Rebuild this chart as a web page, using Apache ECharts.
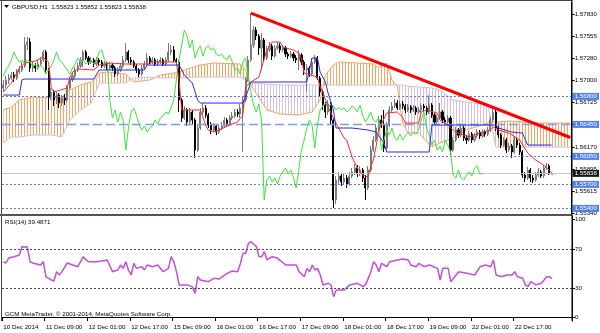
<!DOCTYPE html>
<html><head><meta charset="utf-8">
<script src="https://cdn.jsdelivr.net/npm/echarts@6/dist/echarts.min.js"></script>
<style>html,body{margin:0;padding:0;background:#fff}#c{width:600px;height:333px}</style>
</head><body><div id="c"></div>
<script>
// ---------- DATA ----------
const slotCount = 214; // bar slots on the time axis (H1 bars, incl. cloud projection)
const categories = Array.from({length: slotCount}, (_, i) => i);
const tickLabels = ['10 Dec 2014','11 Dec 09:00','12 Dec 01:00','12 Dec 17:00','15 Dec 09:00','16 Dec 01:00','16 Dec 17:00','17 Dec 09:00','18 Dec 01:00','18 Dec 17:00','19 Dec 09:00','22 Dec 01:00','22 Dec 17:00'];
const priceTicks = [1.57830,1.57555,1.57280,1.57000,1.56725,1.56450,1.56170,1.55895,1.55615,1.55340];
const rsiTicks = [0,30,70,100];
const rsiLevels = [30,70];
const levelLines = [1.56800,1.56450,1.56050,1.55700,1.55400];
const dashedLevel = 1.56450;
const lastPrice = 1.55838;
const titleText = 'GBPUSD,H1  1.55823 1.55852 1.55823 1.55838';
const rsiTitle = 'RSI(14) 39.4871';
const footer = 'GCM MetaTrader, \u00a9 2001-2014, MetaQuotes Software Corp.';

// candles: [open, close, low, high]
const candles = [
[1.56905,1.56942,1.56855,1.57005],[1.56942,1.57005,1.56905,1.57055],[1.57005,1.57030,1.56955,1.57080],[1.57030,1.57067,1.57005,1.57105],[1.57067,1.57030,1.56980,1.57105],
[1.57030,1.57105,1.57005,1.57142],[1.57105,1.57130,1.57080,1.57180],[1.57130,1.57180,1.57105,1.57230],[1.57180,1.57442,1.57155,1.57542],[1.57442,1.57480,1.57380,1.57542],
[1.57480,1.57155,1.57105,1.57530],[1.57155,1.57180,1.57105,1.57230],[1.57180,1.57155,1.57105,1.57217],[1.57155,1.57205,1.57130,1.57255],[1.57205,1.57255,1.57180,1.57292],
[1.57255,1.57355,1.57230,1.57380],[1.57355,1.57130,1.57080,1.57380],[1.57130,1.56792,1.56630,1.57155],[1.56792,1.56855,1.56755,1.56905],[1.56855,1.56755,1.56680,1.56880],
[1.56755,1.56817,1.56705,1.56855],[1.56817,1.56717,1.56655,1.56842],[1.56717,1.56780,1.56680,1.56817],[1.56780,1.56755,1.56692,1.56830],[1.56755,1.56905,1.56730,1.56942],
[1.56905,1.57005,1.56880,1.57042],[1.57005,1.57055,1.56980,1.57105],[1.57055,1.57130,1.57030,1.57167],[1.57130,1.57180,1.57105,1.57217],[1.57180,1.57255,1.57155,1.57292],
[1.57255,1.57355,1.57167,1.57380],[1.57355,1.57280,1.57255,1.57380],[1.57280,1.57230,1.57192,1.57305],[1.57230,1.57255,1.57205,1.57292],[1.57255,1.57205,1.57167,1.57280],
[1.57205,1.57255,1.57180,1.57292],[1.57255,1.57230,1.57192,1.57280],[1.57230,1.57180,1.57155,1.57255],[1.57180,1.57205,1.57155,1.57242],[1.57205,1.57155,1.57130,1.57230],
[1.57155,1.57192,1.57130,1.57230],[1.57192,1.57155,1.57117,1.57217],[1.57155,1.57080,1.57042,1.57180],[1.57080,1.57130,1.57055,1.57167],[1.57130,1.57180,1.57105,1.57217],
[1.57180,1.57255,1.57155,1.57305],[1.57255,1.57355,1.57230,1.57467],[1.57355,1.57255,1.57217,1.57380],[1.57255,1.57230,1.57192,1.57292],[1.57230,1.57180,1.57155,1.57255],
[1.57180,1.57130,1.57092,1.57205],[1.57130,1.57080,1.57042,1.57155],[1.57080,1.57155,1.57055,1.57192],[1.57155,1.57205,1.57130,1.57242],[1.57205,1.57280,1.57180,1.57342],
[1.57280,1.57230,1.57205,1.57305],[1.57230,1.57255,1.57205,1.57292],[1.57255,1.57205,1.57180,1.57280],[1.57205,1.57230,1.57180,1.57267],[1.57230,1.57255,1.57205,1.57292],
[1.57255,1.57205,1.57180,1.57280],[1.57205,1.57255,1.57180,1.57292],[1.57255,1.57355,1.57230,1.57467],[1.57355,1.57380,1.57317,1.57442],[1.57380,1.57255,1.57230,1.57430],
[1.57255,1.57230,1.57192,1.57280],[1.57230,1.56755,1.56605,1.57255],[1.56755,1.56530,1.56480,1.56780],[1.56530,1.56630,1.56505,1.56680],[1.56630,1.56480,1.56430,1.56655],
[1.56480,1.56605,1.56455,1.56655],[1.56605,1.56505,1.56455,1.56630],[1.56505,1.56130,1.56030,1.56530],[1.56130,1.56405,1.56105,1.56442],[1.56405,1.56605,1.56380,1.56655],
[1.56605,1.56655,1.56567,1.56717],[1.56655,1.56567,1.56530,1.56692],[1.56567,1.56442,1.56405,1.56592],[1.56442,1.56380,1.56330,1.56480],[1.56380,1.56430,1.56355,1.56467],
[1.56430,1.56355,1.56317,1.56455],[1.56355,1.56405,1.56330,1.56442],[1.56405,1.56430,1.56380,1.56480],[1.56430,1.56505,1.56405,1.56542],[1.56505,1.56455,1.56417,1.56530],
[1.56455,1.56530,1.56430,1.56567],[1.56530,1.56555,1.56505,1.56605],[1.56555,1.56605,1.56530,1.56642],[1.56605,1.56580,1.56542,1.56642],[1.56580,1.56655,1.56530,1.56705],
[1.56655,1.56755,1.56105,1.56805],[1.56755,1.57005,1.56730,1.57042],[1.57005,1.57255,1.56980,1.57305],[1.57255,1.57442,1.57230,1.57842],[1.57442,1.57630,1.57405,1.57680],
[1.57630,1.57555,1.57505,1.57667],[1.57555,1.57405,1.57317,1.57580],[1.57405,1.57505,1.57130,1.57592],[1.57505,1.57280,1.57230,1.57530],[1.57280,1.57380,1.57255,1.57430],
[1.57380,1.57430,1.57355,1.57480],[1.57430,1.57305,1.57255,1.57455],[1.57305,1.57405,1.57280,1.57442],[1.57405,1.57430,1.57380,1.57480],[1.57430,1.57380,1.57342,1.57467],
[1.57380,1.57405,1.57355,1.57442],[1.57405,1.57330,1.57292,1.57430],[1.57330,1.57305,1.57267,1.57355],[1.57305,1.57330,1.57280,1.57367],[1.57330,1.57280,1.57242,1.57355],
[1.57280,1.57255,1.57217,1.57317],[1.57255,1.57317,1.57130,1.57380],[1.57317,1.57230,1.57192,1.57342],[1.57230,1.57130,1.57067,1.57255],[1.57130,1.57155,1.56855,1.57205],
[1.57155,1.57080,1.57042,1.57180],[1.57080,1.57230,1.57055,1.57280],[1.57230,1.57280,1.57205,1.57317],[1.57280,1.57030,1.57005,1.57305],[1.57030,1.56855,1.56805,1.57055],
[1.56855,1.56692,1.56630,1.56880],[1.56692,1.56605,1.56530,1.56730],[1.56605,1.56705,1.56567,1.56755],[1.56705,1.56505,1.56442,1.56730],[1.56505,1.55505,1.55405,1.56530],
[1.55505,1.55755,1.55455,1.55805],[1.55755,1.55805,1.55705,1.55855],[1.55805,1.55730,1.55680,1.55842],[1.55730,1.55780,1.55692,1.55830],[1.55780,1.55705,1.55655,1.55817],
[1.55705,1.55805,1.55680,1.55855],[1.55805,1.55855,1.55780,1.55905],[1.55855,1.55905,1.55817,1.55955],[1.55905,1.55830,1.55792,1.55942],[1.55830,1.55880,1.55805,1.55930],
[1.55880,1.55780,1.55730,1.55905],[1.55780,1.55655,1.55505,1.55817],[1.55655,1.55880,1.55630,1.55930],[1.55880,1.56130,1.55855,1.56180],[1.56130,1.56255,1.56105,1.56305],
[1.56255,1.56405,1.56230,1.56455],[1.56405,1.56505,1.56380,1.56555],[1.56505,1.56442,1.56405,1.56567],[1.56442,1.56155,1.56105,1.56630],[1.56155,1.56442,1.56130,1.56480],
[1.56442,1.56630,1.56417,1.56680],[1.56630,1.56680,1.56605,1.56730],[1.56680,1.56717,1.56655,1.56767],[1.56717,1.56655,1.56630,1.56755],[1.56655,1.56705,1.56630,1.56742],
[1.56705,1.56680,1.56642,1.56742],[1.56680,1.56630,1.56592,1.56705],[1.56630,1.56667,1.56605,1.56705],[1.56667,1.56630,1.56592,1.56692],[1.56630,1.56655,1.56605,1.56692],
[1.56655,1.56605,1.56567,1.56680],[1.56605,1.56630,1.56580,1.56667],[1.56630,1.56680,1.56605,1.56717],[1.56680,1.56655,1.56617,1.56705],[1.56655,1.56605,1.56567,1.56680],
[1.56605,1.56692,1.56580,1.56817],[1.56692,1.56567,1.56530,1.56717],[1.56567,1.56480,1.56442,1.56592],[1.56480,1.56530,1.56455,1.56567],[1.56530,1.56605,1.56505,1.56717],
[1.56605,1.56505,1.56467,1.56630],[1.56505,1.56480,1.56442,1.56542],[1.56480,1.56530,1.56455,1.56567],[1.56530,1.56130,1.56067,1.56555],[1.56130,1.56255,1.56105,1.56292],
[1.56255,1.56380,1.56230,1.56417],[1.56380,1.56317,1.56280,1.56405],[1.56317,1.56405,1.56292,1.56442],[1.56405,1.56280,1.56242,1.56430],[1.56280,1.56255,1.56205,1.56317],
[1.56255,1.56330,1.56230,1.56367],[1.56330,1.56255,1.56217,1.56355],[1.56255,1.56305,1.56230,1.56342],[1.56305,1.56355,1.56280,1.56392],[1.56355,1.56305,1.56267,1.56380],
[1.56305,1.56355,1.56280,1.56392],[1.56355,1.56330,1.56292,1.56380],[1.56330,1.56380,1.56305,1.56417],[1.56380,1.56505,1.56355,1.56542],[1.56505,1.56605,1.56480,1.56655],
[1.56605,1.56405,1.56367,1.56630],[1.56405,1.56317,1.56280,1.56430],[1.56317,1.56192,1.56155,1.56342],[1.56192,1.56255,1.56167,1.56292],[1.56255,1.56130,1.56092,1.56280],
[1.56130,1.56180,1.56105,1.56217],[1.56180,1.56105,1.56030,1.56205],[1.56105,1.56255,1.56080,1.56305],[1.56255,1.56192,1.56155,1.56280],[1.56192,1.56105,1.56067,1.56217],
[1.56105,1.55817,1.55780,1.56130],[1.55817,1.55780,1.55730,1.55855],[1.55780,1.55880,1.55755,1.55917],[1.55880,1.55780,1.55730,1.55905],[1.55780,1.55755,1.55717,1.55817],
[1.55755,1.55817,1.55730,1.55855],[1.55817,1.55855,1.55792,1.55905],[1.55855,1.55805,1.55780,1.55880],[1.55805,1.55905,1.55780,1.55942],[1.55905,1.55930,1.55880,1.55967],
[1.55930,1.55830,1.55817,1.55955],[1.55823,1.55838,1.55823,1.55852]
];

// Ichimoku lines: [bar index, price]
const tenkan = [[0,1.56855],[3,1.56967],[6,1.57155],[8,1.57217],[12,1.57242],[15,1.57292],[16,1.57255],[17,1.57230],[18,1.56905],[19,1.56855],[24,1.56905],[25,1.57042],[26,1.57105],[28,1.57142],[34,1.57130],[36,1.57192],[40,1.57217],[46,1.57205],[55,1.57205],[56,1.57230],[65,1.57230],[66,1.57005],[67,1.56630],[74,1.56630],[76,1.56442],[77,1.56380],[79,1.56355],[81,1.56380],[85,1.56442],[88,1.56480],[90,1.56567],[91,1.56917],[93,1.56980],[96,1.57042],[99,1.57380],[101,1.57480],[104,1.57480],[105,1.57417],[109,1.57380],[111,1.57342],[112,1.57280],[113,1.57092],[118,1.57042],[119,1.56917],[120,1.56855],[122,1.56667],[124,1.56530],[128,1.56280],[129,1.56255],[131,1.56042],[133,1.55905],[135,1.55817],[137,1.55792],[138,1.55917],[139,1.56005],[140,1.56167],[141,1.56380],[144,1.56592],[148,1.56605],[150,1.56542],[151,1.56467],[156,1.56467],[157,1.56605],[159,1.56630],[163,1.56592],[164,1.56505],[166,1.56467],[170,1.56355],[175,1.56292],[179,1.56342],[183,1.56380],[184,1.56417],[186,1.56380],[190,1.56342],[194,1.56255],[197,1.56092],[200,1.56005],[203,1.55942],[206,1.55842]];
const kijun = [[0,1.56817],[6,1.56817],[7,1.57005],[8,1.57017],[34,1.57017],[36,1.57130],[53,1.57130],[54,1.57192],[66,1.57192],[68,1.57067],[71,1.56967],[73,1.56755],[74,1.56717],[90,1.56717],[92,1.56880],[93,1.56980],[114,1.56980],[116,1.57280],[118,1.57280],[119,1.57105],[121,1.56980],[122,1.56842],[124,1.56630],[125,1.56405],[131,1.56405],[137,1.56380],[140,1.56355],[143,1.56217],[144,1.56105],[160,1.56105],[161,1.56442],[185,1.56442],[186,1.56405],[191,1.56355],[195,1.56342],[197,1.56192],[206,1.56192]];
// Cloud (Senkou span A / B) read at shared bar indices
const cloudIdx = [0,3,6,11,18,22,25,29,33,35,36,39,46,49,55,59,64,74,79,89,91,93,99,104,111,116,119,121,124,126,139,141,143,144,146,148,150,152,156,161,164,169,174,182,183,185,190,201,213];
const spanA = [1.56630,1.56667,1.56755,1.56792,1.56780,1.56792,1.56880,1.56942,1.56980,1.57030,1.57092,1.57105,1.57080,1.56980,1.57005,1.57067,1.57092,1.57192,1.57217,1.57205,1.57130,1.56942,1.56630,1.56580,1.56567,1.56605,1.56755,1.57067,1.57192,1.57230,1.57205,1.57155,1.57205,1.57217,1.57005,1.56930,1.56467,1.56342,1.56342,1.56167,1.56217,1.56280,1.56380,1.56467,1.56480,1.56480,1.56492,1.56467,1.56467];
const spanB = [1.56217,1.56292,1.56292,1.56317,1.56317,1.56292,1.56505,1.56630,1.56717,1.56880,1.56967,1.56967,1.56967,1.57030,1.57042,1.57030,1.57030,1.57042,1.57042,1.57042,1.57005,1.56967,1.56955,1.56942,1.56942,1.56942,1.56942,1.56942,1.56942,1.56942,1.56942,1.56942,1.56942,1.56942,1.56942,1.56942,1.56942,1.56930,1.56917,1.56905,1.56880,1.56755,1.56730,1.56692,1.56530,1.56167,1.56167,1.56167,1.56167];
const chikouShift = 26;
const trendline = [[93,1.57842],[213,1.56286]];
// RSI(14): [bar index, value]
const rsi = [[0,56.8],[1,55.5],[2,60.6],[4,62],[6,63.7],[7,72.3],[9,72],[10,56.8],[11,55.5],[14,53.4],[15,57],[16,41.4],[18,38],[19,37],[20,46.6],[21,43],[22,46.6],[24,55.5],[26,53.4],[28,51.7],[30,62],[31,58.6],[32,56.8],[35,56.8],[37,57.5],[39,58.6],[41,46.6],[43,48.3],[44,53.4],[45,50],[46,56.8],[47,48.3],[48,43.2],[49,55.2],[50,50],[52,51.7],[53,48.3],[54,53.4],[56,51.7],[58,53.4],[60,46.6],[62,50],[63,62],[64,56.8],[65,46.6],[66,33],[69,33],[71,31],[72,24.3],[73,41.4],[74,38],[77,36.3],[79,39.8],[81,39],[84,44.9],[86,47.3],[88,46.6],[89,55],[90,65.5],[91,65.5],[92,75.7],[93,77.4],[95,72.3],[96,62],[97,62],[98,67.1],[99,58.6],[101,62],[103,60.3],[106,53.4],[110,53.4],[111,46.6],[113,41.4],[114,50],[115,46.6],[116,53.4],[117,48.3],[118,50],[119,43.2],[120,32.9],[122,34.6],[123,33],[124,20.9],[125,27.7],[128,27.7],[130,33],[133,34.6],[135,31.2],[136,33],[138,46.6],[139,56.8],[140,53.4],[141,46.6],[142,55.2],[144,51.7],[145,56.8],[148,58.6],[150,59.6],[152,58.6],[153,53.4],[155,51.7],[156,55.2],[158,51.7],[160,53.4],[163,50],[164,38],[165,50],[167,50],[168,36.3],[170,43.2],[171,46.6],[174,44.9],[177,43.2],[179,51.7],[181,53.4],[183,51.7],[184,58.6],[185,43.2],[187,41.4],[189,43.2],[191,43.2],[192,46.6],[193,41.4],[195,39.8],[196,33],[197,31.2],[198,36.3],[200,33],[202,34.6],[204,41.4],[205,41.4],[206,39.49]];

// ---------- CHART ----------
const FONT = 'Liberation Sans';
const FS = 6.2;
const chikou = candles.slice(chikouShift).map((d, i) => [i, d[1]]);

function hatch(color) {
  const c = document.createElement('canvas');
  c.width = 3; c.height = 4;
  const g = c.getContext('2d');
  g.fillStyle = color; g.fillRect(0, 0, 1, 4);
  return {image: c, repeat: 'repeat'};
}
const hatchUp = hatch('#f4a460');
const hatchDn = hatch('#d8bfd8');

function renderCloud(params, api) {
  const kids = [];
  const poly = (pts, up) => ({type: 'polygon', shape: {points: pts}, style: {fill: up ? hatchUp : hatchDn, stroke: null}});
  for (let k = 0; k < cloudIdx.length - 1; k++) {
    const a0 = api.coord([cloudIdx[k], spanA[k]]), a1 = api.coord([cloudIdx[k+1], spanA[k+1]]);
    const b0 = api.coord([cloudIdx[k], spanB[k]]), b1 = api.coord([cloudIdx[k+1], spanB[k+1]]);
    const d0 = spanA[k] - spanB[k], d1 = spanA[k+1] - spanB[k+1];
    if (d0 * d1 >= 0) {
      kids.push(poly([a0, a1, b1, b0], (d0 + d1) >= 0));
    } else {
      const t = d0 / (d0 - d1);
      const m = [a0[0] + (a1[0] - a0[0]) * t, a0[1] + (a1[1] - a0[1]) * t];
      kids.push(poly([a0, m, b0], d0 > 0));
      kids.push(poly([m, a1, b1], d1 > 0));
    }
  }
  return {type: 'group', children: kids};
}

const lvlLabel = (bg) => ({show: true, position: 'end', distance: 1, formatter: p => Number(p.value).toFixed(5),
  color: '#fff', backgroundColor: bg, padding: [1, 2, 0, 2], fontSize: FS, fontFamily: FONT});
const markData = levelLines.map(v => ({
  yAxis: v,
  lineStyle: v === dashedLevel ? {type: [9, 4], color: '#7f9cf0', width: 1.3} : {type: [2, 2], color: '#5a78ea', width: 1},
  label: lvlLabel('#4f7ff0')
}));
markData.push({yAxis: lastPrice, lineStyle: {type: 'solid', color: '#c8c8c8', width: 1}, label: lvlLabel('#151515')});

const tickShow = (i) => i % 16 === 0 && i / 16 < tickLabels.length;

const option = {
  animation: false,
  backgroundColor: '#fff',
  grid: [{left: 2, right: 28, top: 2, height: 212}, {left: 2, right: 28, top: 216, height: 105}],
  xAxis: [
    {type: 'category', gridIndex: 0, data: categories, boundaryGap: true, axisLine: {show: false}, axisTick: {show: false}, axisLabel: {show: false}, splitLine: {show: false}},
    {type: 'category', gridIndex: 1, data: categories, boundaryGap: true,
      axisLine: {show: true, lineStyle: {color: '#000', width: 1}},
      axisTick: {show: true, interval: tickShow, length: 4, lineStyle: {color: '#000'}},
      axisLabel: {show: true, interval: tickShow, formatter: (v, i) => tickLabels[i / 16] || '', align: 'left', fontSize: FS, fontFamily: FONT, color: '#000', margin: 3},
      splitLine: {show: false}}
  ],
  yAxis: [
    {type: 'value', gridIndex: 0, position: 'right', min: 1.5533, max: 1.5798,
      axisLine: {show: true, lineStyle: {color: '#000'}},
      axisTick: {show: true, customValues: priceTicks, length: 3, lineStyle: {color: '#000'}},
      axisLabel: {show: true, customValues: priceTicks, formatter: v => v.toFixed(5), fontSize: FS, fontFamily: FONT, color: '#000', margin: 3},
      splitLine: {show: false}},
    {type: 'value', gridIndex: 1, position: 'right', min: -4.1, max: 103.8,
      axisLine: {show: true, lineStyle: {color: '#000'}},
      axisTick: {show: true, customValues: rsiTicks, length: 3, lineStyle: {color: '#000'}},
      axisLabel: {show: true, customValues: rsiTicks, formatter: v => String(v), fontSize: FS, fontFamily: FONT, color: '#000', margin: 3},
      splitLine: {show: false}}
  ],
  series: [
    {type: 'custom', xAxisIndex: 0, yAxisIndex: 0, data: [[0, 1.566]], renderItem: renderCloud, clip: true, silent: true, z: 1},
    {type: 'line', xAxisIndex: 0, yAxisIndex: 0, data: cloudIdx.map((x, k) => [x, spanA[k]]), symbol: 'none', lineStyle: {color: '#f4a460', width: 1}, z: 2, silent: true},
    {type: 'line', xAxisIndex: 0, yAxisIndex: 0, data: cloudIdx.map((x, k) => [x, spanB[k]]), symbol: 'none', lineStyle: {color: '#d8bfd8', width: 1}, z: 2, silent: true},
    {type: 'candlestick', xAxisIndex: 0, yAxisIndex: 0, data: candles, barWidth: 1.6, z: 3, silent: true,
      itemStyle: {color: '#a8a8a8', color0: '#000', borderColor: '#7a7a7a', borderColor0: '#000', borderWidth: 1},
      markLine: {silent: true, precision: 5, symbol: ['none', 'none'], data: markData, z: 4}},
    {type: 'line', xAxisIndex: 0, yAxisIndex: 0, data: chikou, symbol: 'none', lineStyle: {color: '#39e639', width: 1}, z: 4, silent: true},
    {type: 'line', xAxisIndex: 0, yAxisIndex: 0, data: tenkan, symbol: 'none', lineStyle: {color: '#ff2a2a', width: 1}, z: 4, silent: true},
    {type: 'line', xAxisIndex: 0, yAxisIndex: 0, data: kijun, symbol: 'none', lineStyle: {color: '#2a2aee', width: 1}, z: 4, silent: true},
    {type: 'line', xAxisIndex: 0, yAxisIndex: 0, data: trendline, symbol: 'none', lineStyle: {color: '#ff0000', width: 3}, z: 6, silent: true},
    {type: 'line', xAxisIndex: 1, yAxisIndex: 1, data: rsi, symbol: 'none', lineStyle: {color: '#c24fd9', width: 1.5}, z: 4, silent: true,
      markLine: {silent: true, precision: 2, symbol: ['none', 'none'], label: {show: false},
        data: rsiLevels.map(v => ({yAxis: v})), lineStyle: {type: [2, 2], color: '#444', width: 1}}}
  ],
  graphic: [
    {type: 'line', shape: {x1: 1.5, y1: 0, x2: 1.5, y2: 321}, style: {stroke: '#444', lineWidth: 1}, z: 10},
    {type: 'line', shape: {x1: 0, y1: 0.5, x2: 572, y2: 0.5}, style: {stroke: '#444', lineWidth: 1}, z: 10},
    {type: 'rect', shape: {x: 0, y: 214, width: 572, height: 2}, style: {fill: '#555'}, z: 10},
    {type: 'line', shape: {x1: 572, y1: 0, x2: 572, y2: 321}, style: {stroke: '#000', lineWidth: 1}, z: 10},
    {type: 'polygon', shape: {points: [[4, 5], [9, 5], [6.5, 8]]}, style: {fill: '#000'}, z: 10},
    {type: 'text', x: 12, y: 4, style: {text: titleText, fontSize: FS, fontFamily: FONT, fill: '#000'}, z: 10},
    {type: 'text', x: 5, y: 219, style: {text: rsiTitle, fontSize: FS, fontFamily: FONT, fill: '#000'}, z: 10},
    {type: 'text', x: 5, y: 311, style: {text: footer, fontSize: FS, fontFamily: FONT, fill: '#000'}, z: 10}
  ]
};
const chart = echarts.init(document.getElementById('c'));
chart.setOption(option);
</script>
</body></html>
